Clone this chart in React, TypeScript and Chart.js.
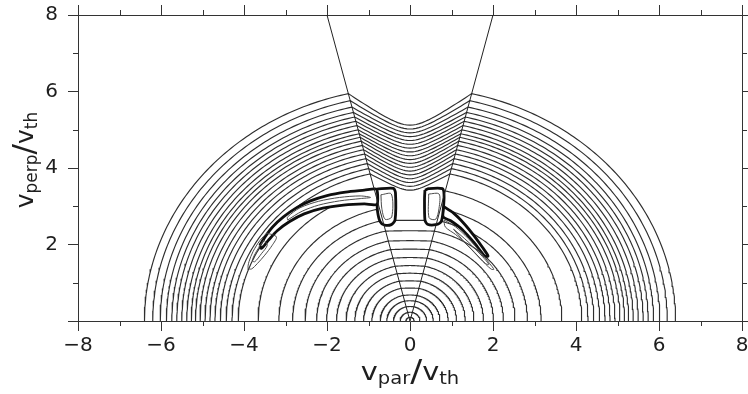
import { useEffect, useRef } from 'react';
import { Chart, registerables } from 'chart.js';

Chart.register(...registerables);

// Contour levels: where each contour meets the v_par axis (|v_par|/v_th)
const CONTOUR_RADII = [
  6.40, 6.20, 6.02, 5.87, 5.74, 5.62, 5.50, 5.38, 5.27, 5.17, 5.06, 4.94,
  4.82, 4.70, 4.57, 4.43, 4.29, 4.14, 3.66, 3.16, 2.83, 2.53, 2.25, 2.01,
  1.77, 1.54, 1.33, 1.12, 0.92, 0.72, 0.56, 0.40, 0.24, 0.10,
];
// Height of each contour on the v_perp axis (v_par = 0); null = contour stops at the cone
const CONTOUR_APEX = [
  5.12, 5.02, 4.92, 4.82, 4.72, 4.62, 4.52, 4.42, 4.32, 4.22, 4.12, 4.02,
  3.92, 3.82, 3.72, 3.62, 3.52, 3.42, null, null, 2.63, 2.36, 2.10, 1.88,
  1.66, 1.45, 1.25, 1.05, 0.86, 0.68, 0.53, 0.38, 0.23, 0.095,
];
// Perpendicular/parallel flattening of the contours
const ANISOTROPY = 0.955;
// Cone boundary: v_par = ±v_perp * CONE_SLOPE
const CONE_SLOPE = 0.25;
const CONE_EDGES = [
  [[0, 0], [-2, 8]],
  [[0, 0], [2, 8]],
];

// Thick-edged resonant features (v_par, v_perp)
const LEFT_BAND = [
  [-3.62, 1.98], [-3.48, 2.22], [-3.30, 2.47], [-3.05, 2.72], [-2.75, 2.95],
  [-2.40, 3.14], [-2.00, 3.28], [-1.55, 3.37], [-1.10, 3.42], [-0.82, 3.45],
  [-0.78, 3.30], [-0.80, 3.05], [-1.10, 3.06], [-1.60, 3.03], [-2.10, 2.95],
  [-2.55, 2.80], [-2.90, 2.60], [-3.20, 2.36], [-3.42, 2.10], [-3.58, 1.90],
  [-3.62, 1.98],
];
const LEFT_BOX = [
  [-0.80, 3.45], [-0.40, 3.47], [-0.35, 3.35], [-0.36, 2.64], [-0.45, 2.52],
  [-0.62, 2.51], [-0.72, 2.60], [-0.78, 2.85], [-0.80, 3.20], [-0.80, 3.45],
];
const RIGHT_BOX = [
  [0.36, 3.42], [0.45, 3.46], [0.78, 3.46], [0.82, 3.30], [0.80, 2.90],
  [0.75, 2.60], [0.62, 2.52], [0.42, 2.53], [0.36, 2.64], [0.35, 3.20],
  [0.36, 3.42],
];
const RIGHT_BAND = [
  [0.80, 3.00], [1.05, 2.82], [1.30, 2.55], [1.55, 2.22], [1.75, 1.92],
  [1.88, 1.70], [1.80, 1.70], [1.55, 2.04], [1.27, 2.38], [0.98, 2.62],
  [0.80, 2.72], [0.80, 3.00],
];
// Thin inner contours of the features
const LEFT_TAIL_OUTER = [
  [-3.45, 2.30], [-3.62, 2.10], [-3.78, 1.82], [-3.88, 1.55], [-3.90, 1.38],
  [-3.82, 1.36], [-3.68, 1.50], [-3.50, 1.72], [-3.32, 1.98], [-3.22, 2.20],
  [-3.45, 2.30],
];
const LEFT_TAIL_INNER = [
  [-3.52, 2.12], [-3.70, 1.82], [-3.80, 1.58], [-3.74, 1.55], [-3.58, 1.76],
  [-3.44, 1.98], [-3.52, 2.12],
];
const LEFT_BAND_LOOP = [
  [-2.95, 2.64], [-2.60, 2.87], [-2.20, 3.03], [-1.70, 3.14], [-1.20, 3.20],
  [-0.95, 3.23], [-1.20, 3.27], [-1.70, 3.23], [-2.20, 3.13], [-2.65, 2.96],
  [-2.95, 2.72], [-2.95, 2.64],
];
const LEFT_BOX_LOOP = [
  [-0.70, 3.30], [-0.45, 3.32], [-0.44, 2.72], [-0.60, 2.66], [-0.68, 2.95],
  [-0.70, 3.30],
];
const RIGHT_BOX_LOOP = [
  [0.45, 3.32], [0.70, 3.32], [0.70, 2.95], [0.62, 2.66], [0.46, 2.70],
  [0.45, 3.32],
];
const RIGHT_LOOP_OUTER = [
  [0.82, 2.64], [1.10, 2.46], [1.40, 2.16], [1.70, 1.80], [1.92, 1.50],
  [2.02, 1.35], [1.95, 1.36], [1.70, 1.62], [1.40, 1.96], [1.10, 2.26],
  [0.85, 2.46], [0.82, 2.64],
];
const RIGHT_LOOP_INNER = [
  [1.05, 2.40], [1.40, 2.07], [1.75, 1.68], [1.90, 1.48], [1.82, 1.50],
  [1.55, 1.80], [1.25, 2.14], [1.05, 2.40],
];

const X_MINOR = [-7, -5, -3, -1, 1, 3, 5, 7];
const Y_MINOR = [1, 3, 5, 7];

const LINE = '#2e2e2e';
const EDGE = '#0e0e0e';
const FONT = '"DejaVu Sans", "Liberation Sans", sans-serif';

type Pt = { x: number; y: number };

// One contour: flattened semicircle outside the cone, dipped curve inside it
function contourPieces(r: number, apex: number | null): Pt[][] {
  const yc = r / Math.sqrt(CONE_SLOPE * CONE_SLOPE + 1 / (ANISOTROPY * ANISOTROPY));
  const xc = yc * CONE_SLOPE;
  const thc = Math.acos(xc / r);
  const n = 90;
  const right: Pt[] = [];
  for (let i = 0; i <= n; i++) {
    const t = (thc * i) / n;
    right.push({ x: r * Math.cos(t), y: ANISOTROPY * r * Math.sin(t) });
  }
  const left = right.map((p) => ({ x: -p.x, y: p.y })).reverse();
  if (apex === null) return [right, left];
  const mid: Pt[] = [];
  const e = 0.3;
  const norm = Math.sqrt(1 + e * e) - e;
  const m = 40;
  for (let j = 1; j < m; j++) {
    const x = xc - (2 * xc * j) / m;
    const u = Math.abs(x) / xc;
    const g = (Math.sqrt(u * u + e * e) - e) / norm;
    mid.push({ x, y: apex + (yc - apex) * g });
  }
  return [[...right, ...mid, ...left]];
}

const toPts = (arr: number[][]): Pt[] => arr.map(([x, y]) => ({ x, y }));

function buildDatasets() {
  const sets: any[] = [];
  CONTOUR_RADII.forEach((r, i) => {
    contourPieces(r, CONTOUR_APEX[i]).forEach((pts) => {
      sets.push({
        data: pts, showLine: true, pointRadius: 0, borderColor: LINE,
        borderWidth: 1.15, tension: 0, fill: false, order: 4,
      });
    });
  });
  const thick = [LEFT_BAND, LEFT_BOX, RIGHT_BOX, RIGHT_BAND];
  thick.forEach((shape) => {
    sets.push({
      data: toPts(shape), showLine: true, pointRadius: 0, borderColor: EDGE,
      borderWidth: 2.8, tension: 0.25, fill: 'shape', backgroundColor: '#ffffff',
      order: 3,
    });
  });
  const thin = [LEFT_TAIL_OUTER, LEFT_TAIL_INNER, LEFT_BAND_LOOP, LEFT_BOX_LOOP,
    RIGHT_BOX_LOOP, RIGHT_LOOP_OUTER, RIGHT_LOOP_INNER];
  thin.forEach((shape) => {
    sets.push({
      data: toPts(shape), showLine: true, pointRadius: 0, borderColor: '#4a4a4a',
      borderWidth: 1, tension: 0.3, fill: false, order: 2,
    });
  });
  CONE_EDGES.forEach((seg) => {
    sets.push({
      data: toPts(seg), showLine: true, pointRadius: 0, borderColor: '#222',
      borderWidth: 1, tension: 0, fill: false, order: 1,
    });
  });
  return sets;
}

// Axis title with subscripts: [text, size, baseline shift]
type Part = [string, number, number];
function drawParts(ctx: CanvasRenderingContext2D, parts: Part[]) {
  let total = 0;
  const widths = parts.map(([t, s]) => {
    ctx.font = `${s}px ${FONT}`;
    const w = ctx.measureText(t).width;
    total += w;
    return w;
  });
  let x = -total / 2;
  parts.forEach(([t, s, dy], i) => {
    ctx.font = `${s}px ${FONT}`;
    ctx.fillText(t, x, dy);
    x += widths[i];
  });
}

const X_TITLE: Part[] = [['v', 25, 0], ['par', 17, 4], ['/', 31, 1], ['v', 25, 0], ['th', 17, 4]];
const Y_TITLE: Part[] = [['v', 25, 0], ['perp', 17, 4], ['/', 31, 1], ['v', 25, 0], ['th', 17, 4]];

const decorations = {
  id: 'decorations',
  afterDraw(chart: any) {
    const { ctx, chartArea: a, scales } = chart;
    ctx.save();
    ctx.strokeStyle = '#333';
    ctx.lineWidth = 1;
    ctx.beginPath();
    X_MINOR.forEach((v) => {
      const px = Math.round(scales.x.getPixelForValue(v)) + 0.5;
      ctx.moveTo(px, a.bottom); ctx.lineTo(px, a.bottom + 5);
      ctx.moveTo(px, a.top); ctx.lineTo(px, a.top - 5);
    });
    Y_MINOR.forEach((v) => {
      const py = Math.round(scales.y.getPixelForValue(v)) + 0.5;
      ctx.moveTo(a.left, py); ctx.lineTo(a.left - 5, py);
      ctx.moveTo(a.right, py); ctx.lineTo(a.right + 5, py);
    });
    ctx.stroke();

    ctx.fillStyle = '#1e1e1e';
    ctx.textBaseline = 'alphabetic';
    ctx.textAlign = 'left';
    ctx.save();
    ctx.translate((a.left + a.right) / 2, 380);
    ctx.scale(1.15, 1);
    drawParts(ctx, X_TITLE);
    ctx.restore();

    ctx.save();
    ctx.translate(33, 160);
    ctx.rotate(-Math.PI / 2);
    drawParts(ctx, Y_TITLE);
    ctx.restore();
    ctx.restore();
  },
};

const axisGrid = {
  display: true, drawOnChartArea: false, drawTicks: true, tickLength: 10,
  color: '#333', lineWidth: 1,
};
const axisBorder = { display: true, color: '#333', width: 1 };

export default function App() {
  const ref = useRef<HTMLCanvasElement>(null);
  useEffect(() => {
    if (!ref.current) return;
    const chart = new Chart(ref.current, {
      type: 'scatter',
      data: { datasets: buildDatasets() },
      plugins: [decorations],
      options: {
        responsive: false,
        animation: false,
        devicePixelRatio: 1,
        layout: { padding: 0 },
        plugins: { legend: { display: false }, tooltip: { enabled: false } },
        scales: {
          x: {
            type: 'linear', position: 'bottom', min: -8, max: 8,
            grid: axisGrid, border: axisBorder,
            ticks: {
              stepSize: 2, padding: 3, color: '#1e1e1e', maxRotation: 0,
              font: { family: FONT, size: 20 },
              callback: (v: any) => (v < 0 ? '\u2212' + -v : String(v)),
            },
            afterFit: (s: any) => { s.height = 73; s.paddingLeft = 0; s.paddingRight = 0; },
          },
          x2: {
            type: 'linear', position: 'top', min: -8, max: 8,
            grid: axisGrid, border: axisBorder,
            ticks: { stepSize: 2, display: false },
            afterFit: (s: any) => { s.height = 15; s.paddingLeft = 0; s.paddingRight = 0; },
          },
          y: {
            type: 'linear', position: 'left', min: 0, max: 8,
            grid: axisGrid, border: axisBorder,
            ticks: {
              stepSize: 2, padding: 10, color: '#1e1e1e',
              font: { family: FONT, size: 20 },
              callback: (v: any) => (v === 0 ? '' : String(v)),
            },
            afterFit: (s: any) => { s.width = 78; s.paddingTop = 0; s.paddingBottom = 0; },
          },
          y2: {
            type: 'linear', position: 'right', min: 0, max: 8,
            grid: axisGrid, border: axisBorder,
            ticks: { stepSize: 2, display: false },
            afterFit: (s: any) => { s.width = 6; s.paddingTop = 0; s.paddingBottom = 0; },
          },
        },
      } as any,
    });
    return () => chart.destroy();
  }, []);
  return (
    <div style={{ position: 'fixed', left: 0, top: 0, width: 748, height: 394, background: '#fff' }}>
      <canvas ref={ref} width={748} height={394} style={{ display: 'block' }} />
    </div>
  );
}
